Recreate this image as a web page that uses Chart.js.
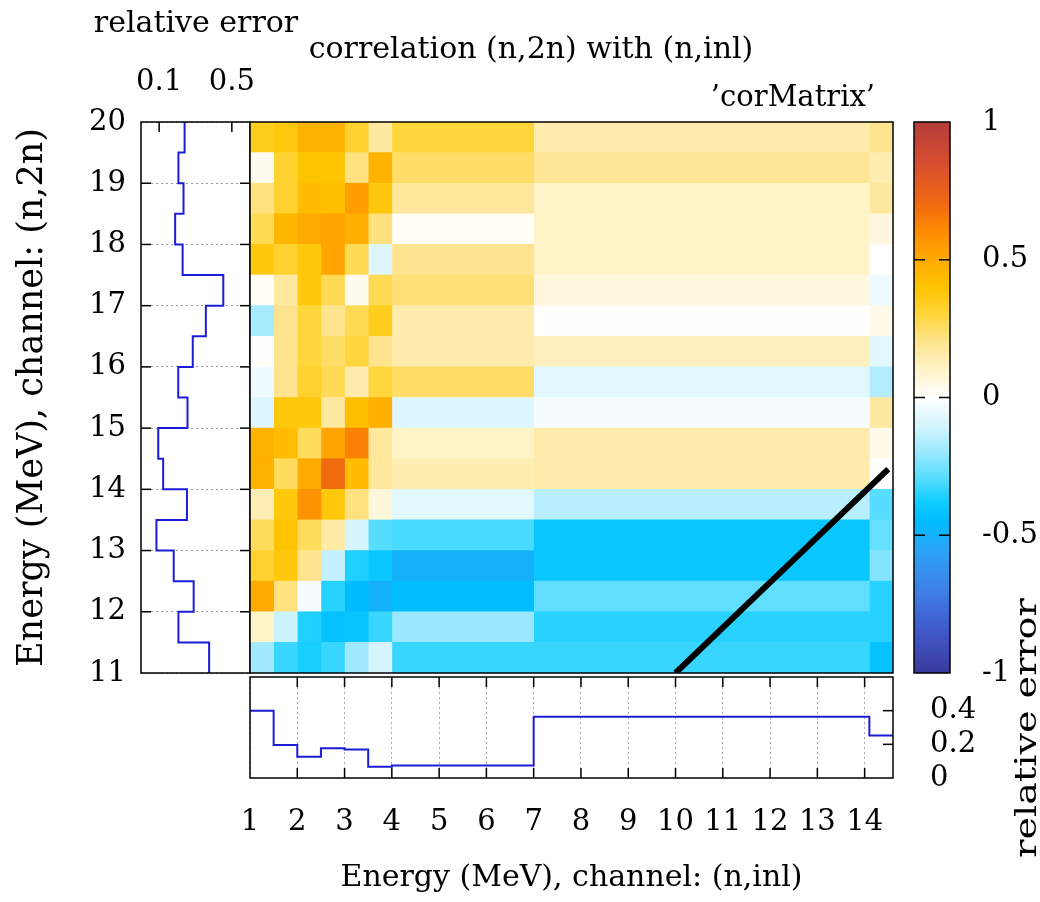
<!DOCTYPE html>
<html>
<head>
<meta charset="utf-8">
<script src="https://cdn.jsdelivr.net/npm/chart.js@4.4.1/dist/chart.umd.min.js"></script>
<style>
  html, body { margin: 0; padding: 0; background: #fff; }
  #page { position: relative; width: 1040px; height: 902px; overflow: hidden; }
  canvas { position: absolute; }
</style>
</head>
<body>
<div id="page">
  <canvas id="leftErr" width="310" height="713" style="left:0px;top:0px"></canvas>
  <canvas id="corr" width="647" height="645" style="left:248px;top:30px"></canvas>
  <canvas id="bottomErr" width="840" height="342" style="left:200px;top:560px"></canvas>
  <canvas id="cbar" width="140" height="670" style="left:900px;top:70px"></canvas>
</div>
<script>
// bin edges in MeV: (n,inl) along x, (n,2n) along y (top to bottom)
const xEdges = [1, 1.5, 2, 2.5, 3, 3.5, 4, 7, 14.1, 14.6]
const yEdges = [20, 19.5, 19, 18.5, 18, 17.5, 17, 16.5, 16, 15.5, 15, 14.5, 14, 13.5, 13, 12.5, 12, 11.5, 11]

// correlation, one row per (n,2n) bin from 20 MeV down, one value per (n,inl) bin
const corrMatrix = [
  [0.35, 0.38, 0.47, 0.47, 0.32, 0.17, 0.30, 0.15, 0.20],
  [0.03, 0.32, 0.40, 0.40, 0.22, 0.47, 0.25, 0.19, 0.14],
  [0.22, 0.32, 0.43, 0.42, 0.54, 0.38, 0.18, 0.10, 0.17],
  [0.27, 0.45, 0.50, 0.52, 0.48, 0.22, 0.02, 0.10, 0.06],
  [0.38, 0.32, 0.38, 0.52, 0.27, -0.08, 0.20, 0.10, 0.00],
  [0.02, 0.17, 0.38, 0.27, 0.03, 0.27, 0.23, 0.06, -0.04],
  [-0.18, 0.20, 0.30, 0.20, 0.27, 0.35, 0.15, 0.01, 0.04],
  [0.01, 0.20, 0.30, 0.25, 0.30, 0.20, 0.15, 0.12, -0.07],
  [-0.04, 0.20, 0.32, 0.27, 0.15, 0.30, 0.25, -0.07, -0.16],
  [-0.08, 0.38, 0.38, 0.17, 0.42, 0.48, -0.08, -0.02, 0.17],
  [0.47, 0.43, 0.26, 0.52, 0.63, 0.18, 0.10, 0.15, 0.04],
  [0.47, 0.26, 0.50, 0.70, 0.43, 0.18, 0.14, 0.15, 0.00],
  [0.13, 0.38, 0.58, 0.38, 0.22, 0.07, -0.07, -0.15, -0.29],
  [0.26, 0.40, 0.26, 0.16, -0.10, -0.29, -0.31, -0.40, -0.27],
  [0.32, 0.38, 0.20, -0.13, -0.36, -0.40, -0.50, -0.40, -0.23],
  [0.50, 0.22, -0.02, -0.35, -0.45, -0.50, -0.44, -0.28, -0.35],
  [0.10, -0.12, -0.36, -0.43, -0.41, -0.33, -0.20, -0.35, -0.35],
  [-0.19, -0.33, -0.37, -0.33, -0.19, -0.10, -0.33, -0.33, -0.42],
]

// relative errors per bin
const relErrN2n = [0.24, 0.206, 0.234, 0.188, 0.229, 0.453, 0.357, 0.285, 0.205, 0.256, 0.095, 0.122, 0.253, 0.085, 0.18, 0.29, 0.206, 0.375]
const relErrInl = [0.4, 0.196, 0.126, 0.177, 0.17, 0.067, 0.075, 0.364, 0.252]

// the line drawn over the matrix
const diagLine = [{ x: 10, y: 11 }, { x: 14.5, y: 14.33 }]

// tick labels
const energyTicksX = [1, 2, 3, 4, 5, 6, 7, 8, 9, 10, 11, 12, 13, 14]
const energyTicksY = [11, 12, 13, 14, 15, 16, 17, 18, 19, 20]
const relErrTicksTop = [0.1, 0.5]
const relErrTicksRight = [0, 0.2, 0.4]
const corrTicks = [-1, -0.5, 0, 0.5, 1]

// palette
const cmapValues = [-1, -0.85, -0.7, -0.55, -0.45, -0.38, -0.3, -0.2, -0.1, 0, 0.1, 0.2, 0.3, 0.4, 0.5, 0.6, 0.7, 0.85, 1]
const cmapColors = ["#3a3a9c", "#4058c8", "#3f80e6", "#2aa4f4", "#00bcff", "#10ccff", "#50dcff", "#9ae8ff", "#d6f5ff", "#ffffff",
  "#fff3c8", "#ffe490", "#ffd63c", "#ffc400", "#ffaa00", "#ff8c00", "#f06a10", "#d84e30", "#b23c3a"]

const FONT = "'DejaVu Serif', serif"
const LINE_BLUE = "#1c1cd8"
Chart.defaults.font.family = FONT
Chart.defaults.color = "#000"

function hexToRgb(h) {
  const n = parseInt(h.slice(1), 16)
  return [n >> 16, (n >> 8) & 255, n & 255]
}

function corrColor(v) {
  v = Math.max(-1, Math.min(1, v))
  let i = 0
  while (i < cmapValues.length - 2 && v > cmapValues[i + 1]) i++
  const t = (v - cmapValues[i]) / (cmapValues[i + 1] - cmapValues[i])
  const a = hexToRgb(cmapColors[i])
  const b = hexToRgb(cmapColors[i + 1])
  const c = a.map((x, k) => Math.round(x + (b[k] - x) * t))
  return `rgb(${c[0]}, ${c[1]}, ${c[2]})`
}

const fixedTicks = (values) => (scale) => {
  scale.ticks = values.map((v) => ({ value: v }))
}

// box around the plot area plus gnuplot-style inward tick marks
const framePlugin = {
  id: "frame",
  afterDatasetsDraw(chart, args, opts) {
    const { ctx, chartArea: a } = chart
    ctx.save()
    ctx.strokeStyle = "#000"
    ctx.lineWidth = 1.5
    ;(opts.marks || []).forEach((m) => {
      const scale = chart.scales[m.axis]
      scale.ticks.forEach((t) => {
        if (t.value <= scale.min || t.value >= scale.max) return
        const p = scale.getPixelForValue(t.value)
        m.sides.forEach((side) => {
          ctx.beginPath()
          if (side === "left") { ctx.moveTo(a.left, p); ctx.lineTo(a.left + m.len, p) }
          if (side === "right") { ctx.moveTo(a.right, p); ctx.lineTo(a.right - m.len, p) }
          if (side === "top") { ctx.moveTo(p, a.top); ctx.lineTo(p, a.top + m.len) }
          if (side === "bottom") { ctx.moveTo(p, a.bottom); ctx.lineTo(p, a.bottom - m.len) }
          ctx.stroke()
        })
      })
    })
    ctx.strokeRect(a.left, a.top, a.right - a.left, a.bottom - a.top)
    ctx.restore()
  },
}

// free text (titles that gnuplot places outside the axes)
const notesPlugin = {
  id: "notes",
  afterDraw(chart, args, opts) {
    const ctx = chart.ctx
    ;(opts.items || []).forEach((it) => {
      ctx.save()
      ctx.font = it.font
      ctx.fillStyle = "#000"
      ctx.textAlign = it.align || "center"
      ctx.textBaseline = "middle"
      ctx.translate(it.x, it.y)
      if (it.rotate) ctx.rotate(it.rotate)
      if (it.stretch) ctx.scale(it.stretch, 1)
      ctx.fillText(it.text, 0, 0)
      ctx.restore()
    })
  },
}

const baseOptions = {
  responsive: false,
  animation: false,
  events: [],
}

// Left panel: relative error of (n,2n)
new Chart(document.getElementById("leftErr"), {
  type: "line",
  data: {
    datasets: [{
      data: yEdges.map((y, i) => ({ x: relErrN2n[Math.min(i, relErrN2n.length - 1)], y })),
      stepped: "after",
      borderColor: LINE_BLUE,
      borderWidth: 2,
      pointRadius: 0,
      fill: false,
    }],
  },
  options: {
    ...baseOptions,
    layout: { padding: { left: 0, top: 0, right: 60, bottom: 40 } },
    plugins: {
      legend: { display: false },
      tooltip: { enabled: false },
      frame: { marks: [{ axis: "y", sides: ["left", "right"], len: 10 }, { axis: "x", sides: ["top"], len: 10 }] },
      notes: { items: [{ text: "relative error", x: 196, y: 24, font: `30px ${FONT}` }] },
    },
    scales: {
      x: {
        type: "linear",
        position: "top",
        min: 0,
        max: 0.6,
        afterBuildTicks: fixedTicks(relErrTicksTop),
        afterFit: (s) => { s.height = 122 },
        grid: { display: false },
        border: { display: false },
        ticks: { font: { size: 29 }, padding: 14, maxRotation: 0, callback: (v) => String(v) },
      },
      y: {
        type: "linear",
        position: "left",
        min: 11,
        max: 20,
        afterBuildTicks: fixedTicks(energyTicksY),
        afterFit: (s) => { s.width = 141 },
        grid: { color: "#999", lineWidth: 1, drawTicks: false },
        border: { display: false, dash: [2, 3] },
        ticks: { font: { size: 29 }, padding: 15, callback: (v) => String(v) },
        title: { display: true, text: "Energy (MeV), channel: (n,2n)", font: { size: 35 }, padding: { top: 12, bottom: 0 } },
      },
    },
  },
  plugins: [framePlugin, notesPlugin],
})

// Correlation matrix: one floating-bar dataset per (n,inl) bin
const cellDatasets = xEdges.slice(0, -1).map((x0, j) => ({
  type: "bar",
  order: 1,
  grouped: false,
  barPercentage: 1,
  categoryPercentage: 1,
  borderWidth: 0,
  data: corrMatrix.map((row, i) => ({ y: (yEdges[i] + yEdges[i + 1]) / 2, x: [x0, xEdges[j + 1]] })),
  backgroundColor: corrMatrix.map((row) => corrColor(row[j])),
}))

new Chart(document.getElementById("corr"), {
  type: "bar",
  data: {
    datasets: [
      {
        type: "line",
        order: 0,
        data: diagLine,
        borderColor: "#000",
        borderWidth: 6,
        borderCapStyle: "butt",
        pointRadius: 0,
        fill: false,
      },
      ...cellDatasets,
    ],
  },
  options: {
    ...baseOptions,
    indexAxis: "y",
    layout: { padding: { left: 2, top: 92, right: 2, bottom: 2 } },
    plugins: {
      legend: { display: false },
      tooltip: { enabled: false },
      frame: { marks: [] },
      notes: {
        items: [
          { text: "correlation (n,2n) with (n,inl)", x: 283, y: 20, font: `30px ${FONT}` },
          { text: "\u2019corMatrix\u2019", x: 627, y: 68, align: "right", font: `29px ${FONT}` },
        ],
      },
    },
    scales: {
      x: { type: "linear", display: false, offset: false, min: 1, max: 14.6 },
      y: { type: "linear", display: false, offset: false, min: 11, max: 20, afterBuildTicks: fixedTicks(energyTicksY) },
    },
  },
  plugins: [framePlugin, notesPlugin],
})

// Bottom panel: relative error of (n,inl)
new Chart(document.getElementById("bottomErr"), {
  type: "line",
  data: {
    datasets: [{
      data: xEdges.map((x, i) => ({ x, y: relErrInl[Math.min(i, relErrInl.length - 1)] })),
      stepped: "before",
      borderColor: LINE_BLUE,
      borderWidth: 2,
      pointRadius: 0,
      fill: false,
    }],
  },
  options: {
    ...baseOptions,
    layout: { padding: { left: 50, top: 117, right: 0, bottom: 0 } },
    plugins: {
      legend: { display: false },
      tooltip: { enabled: false },
      frame: { marks: [{ axis: "x", sides: ["top", "bottom"], len: 10 }, { axis: "y", sides: ["right"], len: 10 }] },
      notes: {
        items: [
          { text: "relative error", x: 828, y: 168, rotate: -Math.PI / 2, stretch: 1.27, font: `30px ${FONT}` },
        ],
      },
    },
    scales: {
      x: {
        type: "linear",
        position: "bottom",
        min: 1,
        max: 14.6,
        afterBuildTicks: fixedTicks(energyTicksX),
        afterFit: (s) => { s.height = 124 },
        grid: { color: "#aaa", lineWidth: 1, drawTicks: false },
        border: { display: false, dash: [2, 3] },
        ticks: { font: { size: 29 }, padding: 27, maxRotation: 0, autoSkip: false, callback: (v) => String(v) },
        title: { display: true, text: "Energy (MeV), channel: (n,inl)", font: { size: 30 }, padding: { top: 0, bottom: 6 } },
      },
      y: {
        type: "linear",
        position: "right",
        min: 0,
        max: 0.6,
        afterBuildTicks: fixedTicks(relErrTicksRight),
        afterFit: (s) => { s.width = 147 },
        grid: { display: false },
        border: { display: false },
        ticks: { font: { size: 29 }, padding: 29, callback: (v) => String(v) },
      },
    },
  },
  plugins: [framePlugin, notesPlugin],
})

// Colour box
new Chart(document.getElementById("cbar"), {
  type: "bar",
  data: {
    labels: ["corr"],
    datasets: [{
      data: [[corrTicks[0], corrTicks[corrTicks.length - 1]]],
      barPercentage: 1,
      categoryPercentage: 1,
      borderWidth: 0,
      backgroundColor: (context) => {
        const chart = context.chart
        const yScale = chart.scales.y
        if (!chart.chartArea || !yScale) return "#fff"
        const g = chart.ctx.createLinearGradient(0, yScale.getPixelForValue(-1), 0, yScale.getPixelForValue(1))
        cmapValues.forEach((v, i) => g.addColorStop((v + 1) / 2, cmapColors[i]))
        return g
      },
    }],
  },
  options: {
    ...baseOptions,
    layout: { padding: { left: 14, top: 52, right: 0, bottom: 67 } },
    plugins: {
      legend: { display: false },
      tooltip: { enabled: false },
      frame: { marks: [{ axis: "y", sides: ["left", "right"], len: 11 }] },
    },
    scales: {
      x: { display: false },
      y: {
        type: "linear",
        position: "right",
        min: -1,
        max: 1,
        afterBuildTicks: fixedTicks(corrTicks),
        afterFit: (s) => { s.width = 90 },
        grid: { display: false },
        border: { display: false },
        ticks: { font: { size: 29 }, padding: 24, callback: (v) => String(v) },
      },
    },
  },
  plugins: [framePlugin],
})
</script>
</body>
</html>
